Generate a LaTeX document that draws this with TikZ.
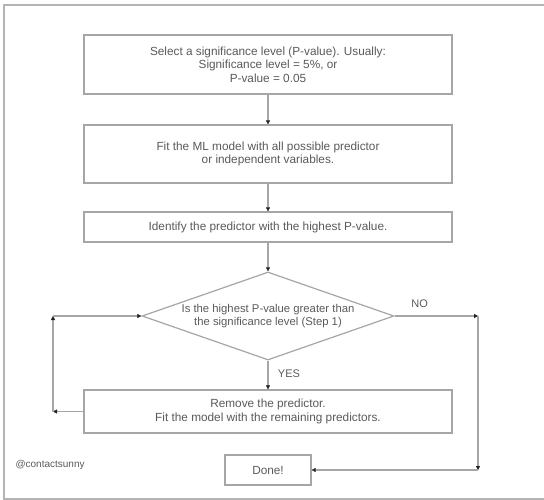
\documentclass[tikz,border=0pt]{standalone}
\usepackage{fontspec}
\setmainfont{Liberation Sans}
\usetikzlibrary{positioning,arrows.meta,shapes.geometric}
\definecolor{txt}{HTML}{5A5A5A}
\definecolor{edge}{HTML}{A6A6A6}
\definecolor{frm}{HTML}{B4B4B4}
\definecolor{tip}{HTML}{222222}
\tikzset{
  stepbox/.style={draw=edge, line width=1.2pt, fill=white, text=txt, align=center,
                  font=\fontsize{11.8}{13.5}\selectfont, minimum width=368pt, inner sep=2pt},
  decide/.style ={draw=edge, line width=1.2pt, shape=diamond, aspect=2.86, text=txt,
                  align=center, font=\fontsize{11.3}{13}\selectfont, inner sep=0pt,
                  minimum width=252pt, minimum height=88pt},
  endbox/.style ={draw=edge, line width=1.2pt, text=txt, align=center,
                  font=\fontsize{11.8}{13.5}\selectfont, minimum width=86pt, minimum height=30pt},
  arr/.style    ={draw=edge, line width=1.2pt,
                  -{Triangle[length=4pt, width=4pt, color=tip, line width=0.4pt]}},
  lab/.style    ={text=txt, font=\fontsize{11}{13}\selectfont},
}
\begin{document}
\begin{tikzpicture}[x=1pt, y=-1pt]

  \useasboundingbox (0,0) rectangle (544,500);

  % ---- frame ----
  \draw[frm, line width=1.2pt] (546,5) -- (4,5) -- (4,499) -- (546,499);

  % ---- steps ----
  \node[stepbox, minimum height=59pt] (sel) at (268,64.5)
       {Select a significance level (P-value). Usually:\\Significance level = 5\%, or\\P-value = 0.05};
  \node[stepbox, minimum height=58pt] (fit) at (268,154)
       {Fit the ML model with all possible predictor\\or independent variables.};
  \node[stepbox, minimum height=30pt] (ide) at (268,227)
       {Identify the predictor with the highest P-value.};
  \node[decide] (dia) at (268,316)
       {Is the highest P-value greater than\\the significance level (Step 1)};
  \node[stepbox, minimum height=43pt] (rem) at (268,411.5)
       {Remove the predictor.\\Fit the model with the remaining predictors.};
  \node[endbox] (done) at (268,470) {Done!};

  \node[lab, font=\fontsize{10}{12}\selectfont, anchor=west] (tag) at (12,465) {@contactsunny};

  % ---- main flow ----
  \draw[arr] (sel) -- (fit);
  \draw[arr] (fit) -- (ide);
  \draw[arr] (ide) -- (dia);
  \draw[arr] (dia) -- (rem) node[lab, pos=0.45, right=6pt] (yes) {YES};

  % ---- loop back (left) ----
  \coordinate (lb) at (53,411.5);
  \coordinate (lt) at (53,316);
  \draw[arr] (rem.west) -- (lb);
  \draw[arr] (lb) -- (lt);
  \draw[arr] (lt) -- (dia.west);

  % ---- exit (right) ----
  \coordinate (rt) at (478,316);
  \coordinate (rb) at (478,470);
  \draw[arr] (dia.east) -- (rt) node[lab, pos=0.3, above=4pt] (no) {NO};
  \draw[arr] (rt) -- (rb);
  \draw[arr] (rb) -- (done.east);

\end{tikzpicture}
\end{document}
